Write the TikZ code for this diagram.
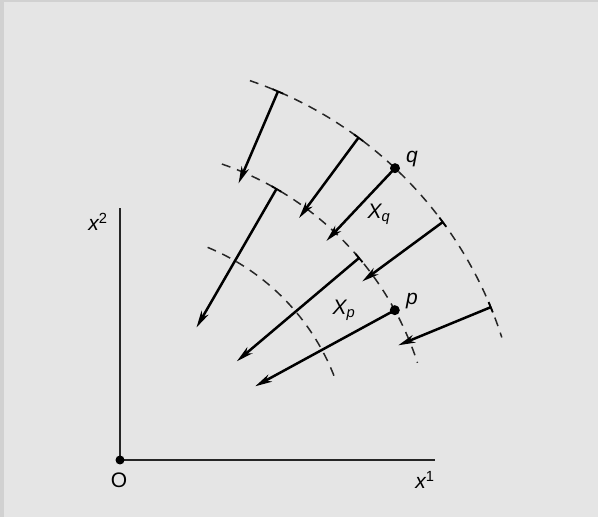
\documentclass[tikz,border=0pt]{standalone}
\usepackage{fontspec}
\setmainfont{Liberation Sans}
\usetikzlibrary{arrows.meta}
\begin{document}
\begin{tikzpicture}[x=1pt,y=1pt,
  vec/.style={line width=2.5pt,-{Stealth[length=17pt,width=8pt,inset=5pt]}},
  dasharc/.style={line width=1.5pt,dash pattern=on 9pt off 7pt,black!85},
  axis/.style={line width=1.8pt,black!85},
  tick/.style={line width=1.8pt},
  lbl/.style={font=\fontsize{21}{21}\selectfont\itshape,inner sep=0pt},
  dot/.style={circle,fill=black,inner sep=0pt,minimum size=10pt}]
\useasboundingbox (0,0) rectangle (598,517);
\fill[black!10] (0,0) rectangle (598,517);
\fill[black!18] (0,0) rectangle (4,517);
\fill[black!18] (0,515) rectangle (598,517);

\coordinate (O) at (120,57);
\coordinate (x2end) at (120,309);
\coordinate (x1end) at (435,57);
\draw[axis] (O) -- (x2end);
\draw[axis] (O) -- (x1end);
\node[dot,minimum size=9pt] (Odot) at (O) {};
\node[font=\fontsize{21}{21}\selectfont,inner sep=0pt] (Olbl) at (119,37) {O};
\node[lbl] (x2lbl) at (98,295) {x\textsuperscript{\upshape 2}};
\node[lbl] (x1lbl) at (425,37) {x\textsuperscript{\upshape 1}};

\begin{scope}[shift={(O)}]
  % dashed arcs
  \draw[dasharc] (71.1:401) arc[start angle=71.1,end angle=17.8,radius=401];
  \draw[dasharc] (71.0:313) arc[start angle=71.0,end angle=18.1,radius=313];
  \draw[dasharc] (67.6:230) arc[start angle=67.6,end angle=20.9,radius=230];

  % start and end points
  \coordinate (s1) at (66.8:401); \coordinate (e1) at (66.8:301);
  \coordinate (s2) at (53.5:401); \coordinate (e2) at (53.5:301);
  \coordinate (q)  at (46.7:401); \coordinate (e3) at (46.7:301);
  \coordinate (s4) at (36.4:401); \coordinate (e4) at (36.4:301);
  \coordinate (s8) at (22.4:401); \coordinate (e8) at (22.4:301);
  \coordinate (s5) at (60.0:313); \coordinate (e5) at (60.0:153);
  \coordinate (s6) at (40.2:313); \coordinate (e6) at (40.2:153);
  \coordinate (p)  at (28.6:313); \coordinate (e7) at (28.6:154);

  % ticks at starts
  \draw[tick] (66.0:401) arc[start angle=66.0,end angle=67.6,radius=401];
  \draw[tick] (52.7:401) arc[start angle=52.7,end angle=54.3,radius=401];
  \draw[tick] (35.6:401) arc[start angle=35.6,end angle=37.2,radius=401];
  \draw[tick] (21.6:401) arc[start angle=21.6,end angle=23.2,radius=401];
  \draw[tick] (59.0:313) arc[start angle=59.0,end angle=61.0,radius=313];
  \draw[tick] (39.2:313) arc[start angle=39.2,end angle=41.2,radius=313];
\end{scope}

\draw[vec] (s1) -- (e1);
\draw[vec] (s2) -- (e2);
\draw[vec] (q) -- (e3);
\draw[vec] (s4) -- (e4);
\draw[vec] (s8) -- (e8);
\draw[vec] (s5) -- (e5);
\draw[vec] (s6) -- (e6);
\draw[vec] (p) -- (e7);
\node[dot] (qdot) at (q) {};
\node[dot] (pdot) at (p) {};

\node[lbl] (qlbl) at (412,358) {q};
\node[lbl] (plbl) at (412,216) {p};
\node[lbl] (Xq) at (379,303) {X\textsubscript{q}};
\node[lbl] (Xp) at (344,207) {X\textsubscript{p}};
\end{tikzpicture}
\end{document}
